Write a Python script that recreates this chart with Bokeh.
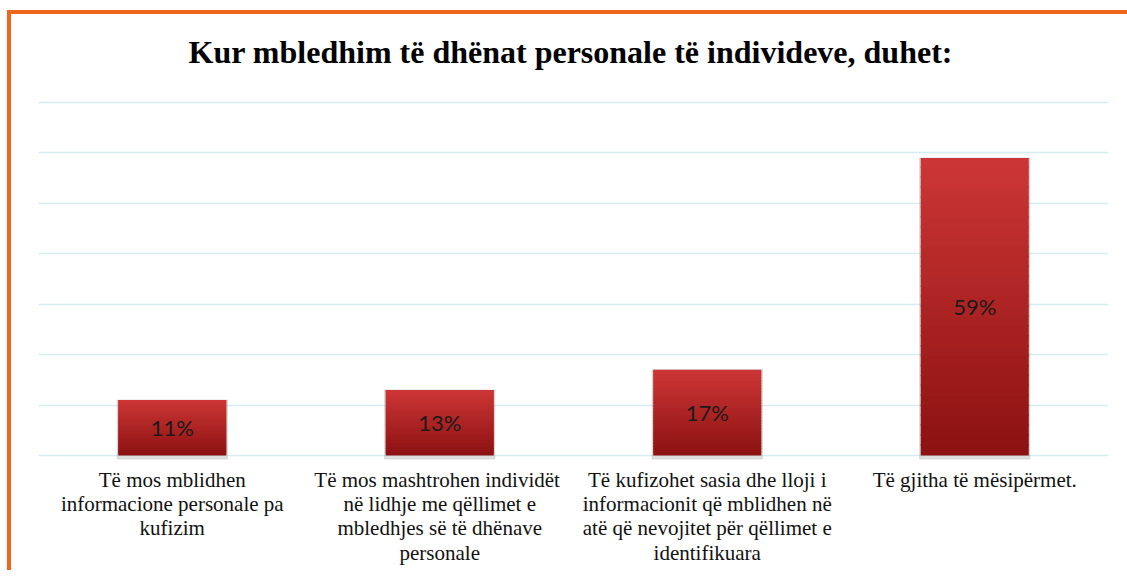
from bokeh.plotting import figure
from bokeh.layouts import column
from bokeh.models import ColumnDataSource, FactorRange, Range1d, FixedTicker, Div
from bokeh.core.properties import value
from bokeh.embed import file_html
from bokeh.resources import INLINE

title_text = "Kur mbledhim të dhënat personale të individeve, duhet:"
categories = [
    "Të mos mblidhen\ninformacione personale pa\nkufizim",
    "Të mos mashtrohen  individët\nnë lidhje me qëllimet e\nmbledhjes së të dhënave\npersonale",
    "Të kufizohet sasia dhe lloji i\ninformacionit që mblidhen në\natë që nevojitet për qëllimet e\nidentifikuara",
    "Të gjitha të mësipërmet.",
]
values = [11, 13, 17, 59]
labels = ["11%", "13%", "17%", "59%"]
y_max = 70
grid_ticks = list(range(0, 71, 10))

W = 1109
PLOT_H = 353          # pixels for 0..70
TOP_PAD = 4           # pixels above the 70 gridline
LABEL_H = 115         # pixels below the baseline for category labels
px_per_unit = PLOT_H / y_max
y_lo = -LABEL_H / px_per_unit
y_hi = y_max + TOP_PAD / px_per_unit

title_div = Div(
    text=title_text, width=W, height=74,
    styles={"text-align": "center", "font-family": "'Liberation Serif'", "font-weight": "bold",
            "font-size": "32px", "line-height": "66px", "color": "#000000", "width": "%dpx" % W},
)

p = figure(
    title=None,
    x_range=FactorRange(*categories, range_padding=0),
    y_range=Range1d(y_lo, y_hi),
    width=W, height=TOP_PAD + PLOT_H + LABEL_H,
    output_backend="svg", toolbar_location=None,
    x_axis_location=None, y_axis_location=None,
    min_border_left=27, min_border_right=12, min_border_top=0, min_border_bottom=0,
)
p.outline_line_color = None
p.background_fill_color = "white"
p.border_fill_color = "white"

# soft shadow behind bars
p.vbar(x=categories, top=values, bottom=-0.7, width=0.412, color="#9a9a9a", alpha=0.3)

# gradient bars (each bar split into thin slices, light red at top to dark red at bottom)
N = 30
top_c = (0xCD, 0x36, 0x36)
bot_c = (0x8C, 0x11, 0x11)
xs, bots, tops, cols = [], [], [], []
for k, v in zip(categories, values):
    for i in range(N):
        f = (i + 0.5) / N
        c = tuple(int(round(bot_c[j] + (top_c[j] - bot_c[j]) * f)) for j in range(3))
        xs.append(k)
        bots.append(v * i / N)
        tops.append(v * (i + 1) / N + (0.3 if i < N - 1 else 0))
        cols.append("#%02x%02x%02x" % c)
p.vbar(x=xs, bottom=bots, top=tops, width=0.404, color=cols, line_color=None)

src = ColumnDataSource(dict(x=categories, y=[v / 2 for v in values], t=labels))
p.text(x="x", y="y", text="t", source=src, text_align="center", text_baseline="middle",
       text_font=value("Lato"), text_font_size="22px", text_color="#1a1a1a")

# category labels below the baseline
csrc = ColumnDataSource(dict(x=categories, y=[0] * len(categories), t=categories))
p.text(x="x", y="y", text="t", source=csrc, text_align="center", text_baseline="top",
       y_offset=12, text_font=value("Liberation Serif"), text_font_size="21px",
       text_color="#111111", text_line_height=1.014)

p.ygrid.ticker = FixedTicker(ticks=grid_ticks)
p.ygrid.grid_line_color = "#D5ECF1"
p.ygrid.grid_line_width = 1.5
p.xgrid.grid_line_color = None

layout = column(title_div, p, spacing=0)
layout.styles = {"border-top": "4px solid #EC661C", "border-left": "4px solid #EC661C",
                 "margin-left": "7px", "margin-top": "10px", "background-color": "white"}

open("out.html", "w").write(file_html(layout, INLINE))
